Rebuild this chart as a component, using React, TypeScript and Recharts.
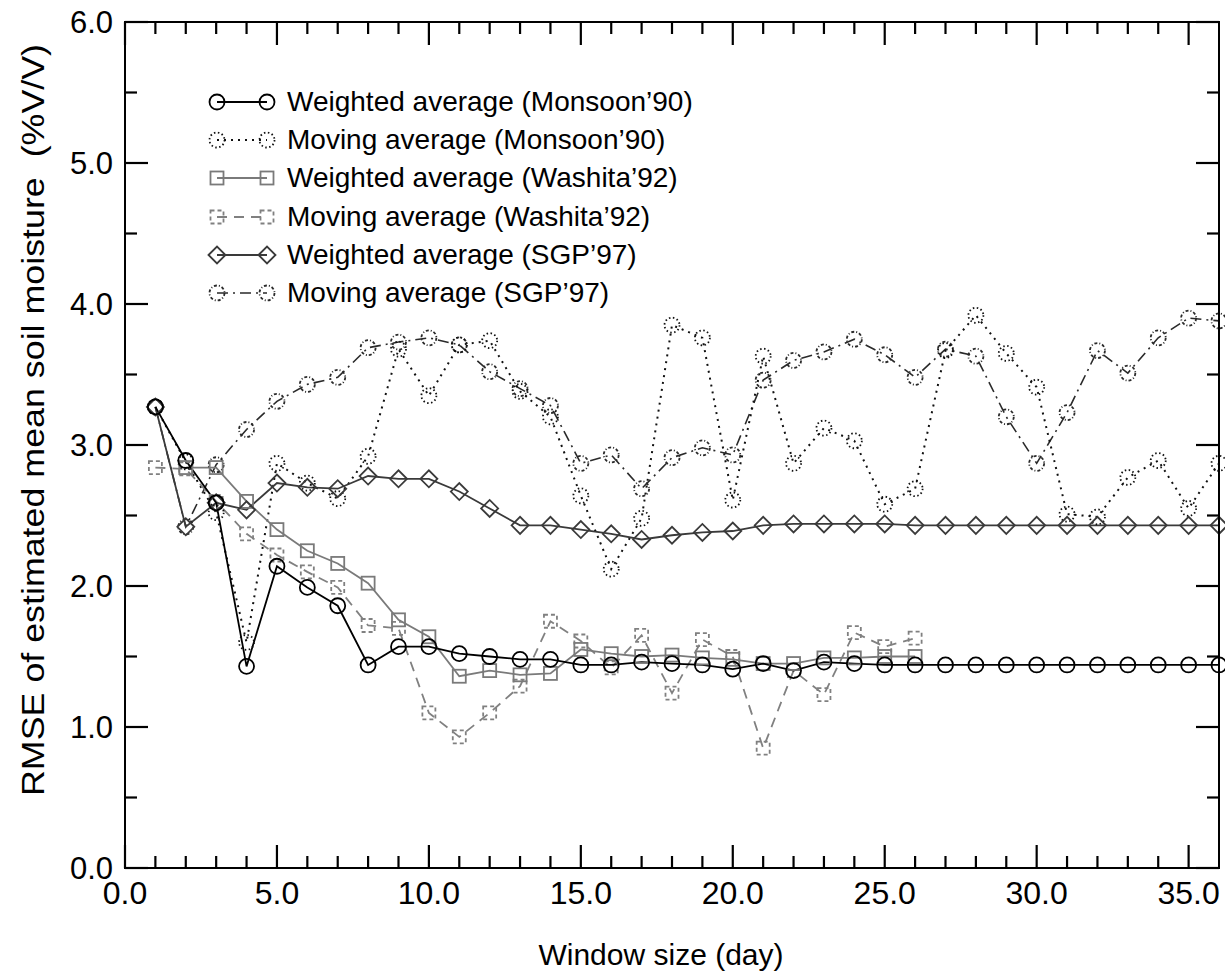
import React from "react";
import { LineChart, Line, XAxis, YAxis, Label } from "recharts";

// window size in days
const windowSize = [
  1, 2, 3, 4, 5, 6, 7, 8, 9, 10, 11, 12, 13, 14, 15, 16, 17, 18, 19, 20, 21,
  22, 23, 24, 25, 26, 27, 28, 29, 30, 31, 32, 33, 34, 35, 36,
];

// RMSE (%V/V)
const monsoonWeighted = [
  3.27, 2.89, 2.59, 1.43, 2.14, 1.99, 1.86, 1.44, 1.57, 1.57, 1.52, 1.5, 1.48,
  1.48, 1.44, 1.44, 1.46, 1.45, 1.44, 1.41, 1.45, 1.4, 1.46, 1.45, 1.44, 1.44,
  1.44, 1.44, 1.44, 1.44, 1.44, 1.44, 1.44, 1.44, 1.44, 1.44,
];
const monsoonMoving = [
  3.27, 2.88, 2.52, 1.6, 2.87, 2.73, 2.62, 2.92, 3.68, 3.35, 3.71, 3.74, 3.38,
  3.2, 2.64, 2.12, 2.48, 3.85, 3.76, 2.61, 3.63, 2.87, 3.12, 3.03, 2.58, 2.69,
  3.67, 3.92, 3.65, 3.41, 2.51, 2.49, 2.77, 2.89, 2.55, 2.87,
];
const washitaWeighted = [
  null, 2.84, 2.84, 2.6, 2.4, 2.25, 2.16, 2.02, 1.76, 1.64, 1.36, 1.4, 1.37,
  1.38, 1.55, 1.52, 1.5, 1.51, 1.49, 1.48, 1.45, 1.45, 1.49, 1.49, 1.5, 1.5,
];
const washitaMoving = [
  2.84, 2.83, 2.6, 2.37, 2.22, 2.1, 1.99, 1.72, 1.7, 1.1, 0.93, 1.1, 1.29, 1.75,
  1.61, 1.42, 1.65, 1.24, 1.62, 1.5, 0.85, 1.4, 1.23, 1.67, 1.57, 1.63,
];
const sgpWeighted = [
  3.27, 2.42, 2.59, 2.54, 2.73, 2.7, 2.69, 2.78, 2.76, 2.76, 2.67, 2.55, 2.43,
  2.43, 2.4, 2.37, 2.33, 2.36, 2.38, 2.39, 2.43, 2.44, 2.44, 2.44, 2.44, 2.43,
  2.43, 2.43, 2.43, 2.43, 2.43, 2.43, 2.43, 2.43, 2.43, 2.43,
];
const sgpMoving = [
  3.27, 2.42, 2.86, 3.11, 3.31, 3.43, 3.48, 3.69, 3.73, 3.76, 3.71, 3.52, 3.4,
  3.28, 2.87, 2.93, 2.69, 2.91, 2.98, 2.93, 3.46, 3.6, 3.66, 3.75, 3.64, 3.48,
  3.68, 3.63, 3.2, 2.87, 3.23, 3.67, 3.51, 3.76, 3.9, 3.88,
];

// axis ticks
const xMajor = [0, 5, 10, 15, 20, 25, 30, 35];
const xMinor = [
  1, 2, 3, 4, 6, 7, 8, 9, 11, 12, 13, 14, 16, 17, 18, 19, 21, 22, 23, 24, 26,
  27, 28, 29, 31, 32, 33, 34,
];
const yMajor = [0, 1, 2, 3, 4, 5, 6];
const yMinor = [0.5, 1.5, 2.5, 3.5, 4.5, 5.5];

const data = windowSize.map((w, i) => ({
  w,
  monsoonWeighted: monsoonWeighted[i] ?? null,
  monsoonMoving: monsoonMoving[i] ?? null,
  washitaWeighted: washitaWeighted[i] ?? null,
  washitaMoving: washitaMoving[i] ?? null,
  sgpWeighted: sgpWeighted[i] ?? null,
  sgpMoving: sgpMoving[i] ?? null,
}));

const FONT = '"Liberation Sans", Arial, Helvetica, sans-serif';
const FRAME = { stroke: "#000", strokeWidth: 2 };

// plot box, fixed by the chart margins below
const W = 1225;
const H = 979;
const MARGIN = { top: 22, right: 6, bottom: 81, left: 65 };
const PLOT_L = MARGIN.left + 60;
const PLOT_T = MARGIN.top;
const PLOT_R = W - MARGIN.right;
const PLOT_B = H - MARGIN.bottom - 30;
const X_MAX = 36;
const Y_MAX = 6;

type Shape = "circle" | "square" | "diamond";

function marker(shape: Shape, cx: number, cy: number, color: string, dash?: string, key?: any) {
  const common = { fill: "none", stroke: color, strokeWidth: 1.8, strokeDasharray: dash };
  if (shape === "circle") return <circle key={key} cx={cx} cy={cy} r={7.5} {...common} />;
  if (shape === "square")
    return <rect key={key} x={cx - 6.5} y={cy - 6.5} width={13} height={13} {...common} />;
  return (
    <path
      key={key}
      d={`M${cx - 8.5},${cy} L${cx},${cy - 8.5} L${cx + 8.5},${cy} L${cx},${cy + 8.5} Z`}
      {...common}
    />
  );
}

const makeDot = (shape: Shape, color: string, dash?: string) => (props: any) => {
  const { cx, cy, value, index } = props;
  if (value == null || cy == null || isNaN(cy)) return <g key={index} />;
  return marker(shape, cx, cy, color, dash, index);
};

const series = [
  { key: "sgpMoving", name: "Moving average (SGP\u201997)", color: "#2a2a2a", dash: "11 5 2 5", shape: "circle" as Shape, mdash: "3 2 1 2", width: 1.6 },
  { key: "monsoonMoving", name: "Moving average (Monsoon\u201990)", color: "#111", dash: "2 5", shape: "circle" as Shape, mdash: "1.5 2.5", width: 2 },
  { key: "washitaMoving", name: "Moving average (Washita\u201992)", color: "#808080", dash: "10 7", shape: "square" as Shape, mdash: "4 3", width: 1.8 },
  { key: "washitaWeighted", name: "Weighted average (Washita\u201992)", color: "#7a7a7a", dash: undefined, shape: "square" as Shape, mdash: undefined, width: 1.8 },
  { key: "sgpWeighted", name: "Weighted average (SGP\u201997)", color: "#3a3a3a", dash: undefined, shape: "diamond" as Shape, mdash: undefined, width: 1.8 },
  { key: "monsoonWeighted", name: "Weighted average (Monsoon\u201990)", color: "#000", dash: undefined, shape: "circle" as Shape, mdash: undefined, width: 1.8 },
];

const legendOrder = [
  "monsoonWeighted",
  "monsoonMoving",
  "washitaWeighted",
  "washitaMoving",
  "sgpWeighted",
  "sgpMoving",
];

function ChartLegend() {
  return (
    <div style={{ fontFamily: FONT, position: "absolute", left: 205, top: 83 }}>
      {legendOrder.map((k) => {
        const s = series.find((x) => x.key === k)!;
        return (
          <div key={k} style={{ display: "flex", alignItems: "center", height: 38.2 }}>
            <svg width={80} height={24} style={{ marginRight: 2 }}>
              <line x1={12} x2={62} y1={12} y2={12} stroke={s.color} strokeWidth={s.width} strokeDasharray={s.dash} />
              {marker(s.shape, 12, 12, s.color, s.mdash)}
              {marker(s.shape, 62, 12, s.color, s.mdash)}
            </svg>
            <span style={{ fontSize: 28, color: "#000", whiteSpace: "nowrap" }}>{s.name}</span>
          </div>
        );
      })}
    </div>
  );
}

// box frame with inward ticks on all four sides
function Frame() {
  const px = (t: number) => PLOT_L + (t / X_MAX) * (PLOT_R - PLOT_L);
  const py = (v: number) => PLOT_B - (v / Y_MAX) * (PLOT_B - PLOT_T);
  const xt = [...xMajor.map((t) => [t, 23]), ...xMinor.map((t) => [t, 12])];
  const yt = [...yMajor.map((v) => [v, 23]), ...yMinor.map((v) => [v, 12])];
  return (
    <svg
      width={W}
      height={H}
      style={{ position: "absolute", left: 0, top: 0, pointerEvents: "none" }}
    >
      <rect
        x={PLOT_L}
        y={PLOT_T}
        width={PLOT_R - PLOT_L}
        height={PLOT_B - PLOT_T}
        fill="none"
        stroke="#000"
        strokeWidth={2}
      />
      {xt.map(([t, len]) => (
        <g key={`x${t}`}>
          <line x1={px(t)} x2={px(t)} y1={PLOT_B} y2={PLOT_B - len} stroke="#000" strokeWidth={2.2} />
          <line x1={px(t)} x2={px(t)} y1={PLOT_T} y2={PLOT_T + len} stroke="#000" strokeWidth={2.2} />
        </g>
      ))}
      {yt.map(([v, len]) => (
        <g key={`y${v}`}>
          <line x1={PLOT_L} x2={PLOT_L + len} y1={py(v)} y2={py(v)} stroke="#000" strokeWidth={2.2} />
          <line x1={PLOT_R} x2={PLOT_R - len} y1={py(v)} y2={py(v)} stroke="#000" strokeWidth={2.2} />
        </g>
      ))}
    </svg>
  );
}

const XLabel = (props: any) => {
  const { x, y, payload } = props;
  return (
    <text x={x} y={y + 36} textAnchor="middle" fontFamily={FONT} fontSize={32} fill="#000">
      {payload.value.toFixed(1)}
    </text>
  );
};

const YLabel = (props: any) => {
  const { x, y, payload } = props;
  return (
    <text x={x - 12} y={y + 11} textAnchor="end" fontFamily={FONT} fontSize={31} fill="#000">
      {payload.value.toFixed(1)}
    </text>
  );
};

export default function App() {
  return (
    <div style={{ position: "absolute", left: 0, top: 0, width: W, height: H, background: "#fff" }}>
      <LineChart width={W} height={H} data={data} margin={MARGIN}>
        <XAxis
          xAxisId="b"
          dataKey="w"
          type="number"
          domain={[0, X_MAX]}
          ticks={xMajor}
          interval={0}
          tickSize={0}
          tickMargin={0}
          tickLine={false}
          tick={XLabel}
          height={30}
          axisLine={FRAME}
        >
          <Label
            content={() => (
              <text x={661} y={965} textAnchor="middle" fontFamily={FONT} fontSize={30} fill="#000">
                Window size (day)
              </text>
            )}
          />
        </XAxis>
        <YAxis
          yAxisId="l"
          type="number"
          domain={[0, Y_MAX]}
          ticks={yMajor}
          interval={0}
          tickSize={0}
          tickMargin={0}
          tickLine={false}
          tick={YLabel}
          width={60}
          axisLine={FRAME}
        >
          <Label
            content={() => (
              <text
                x={0}
                y={0}
                transform="translate(44,420) rotate(-90)"
                textAnchor="middle"
                fontFamily={FONT}
                fontSize={31}
                fill="#000"
                textLength={752}
                lengthAdjust="spacingAndGlyphs"
                style={{ whiteSpace: "pre" }}
              >
                RMSE of estimated mean soil moisture  (%V/V)
              </text>
            )}
          />
        </YAxis>
        {series.map((s) => (
          <Line
            key={s.key}
            xAxisId="b"
            yAxisId="l"
            type="linear"
            dataKey={s.key}
            name={s.name}
            stroke={s.color}
            strokeWidth={s.width}
            strokeDasharray={s.dash}
            dot={makeDot(s.shape, s.color, s.mdash)}
            activeDot={false}
            isAnimationActive={false}
          />
        ))}
      </LineChart>
      <Frame />
      <ChartLegend />
    </div>
  );
}
